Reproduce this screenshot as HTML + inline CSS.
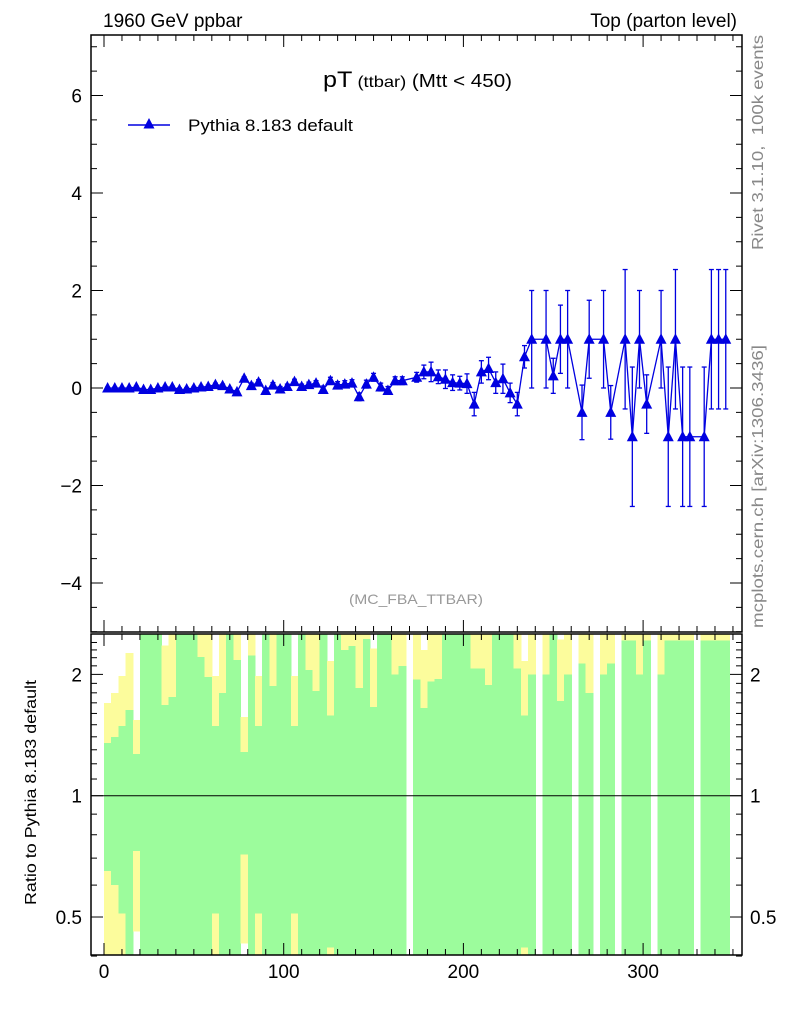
<!DOCTYPE html>
<html><head><meta charset="utf-8"><style>
html,body{margin:0;padding:0;background:#fff;}
svg{display:block;font-family:"Liberation Sans",Arial,sans-serif;}
#bands rect{shape-rendering:crispEdges;}
</style></head><body>
<svg id="chart" width="786" height="1024" viewBox="0 0 786 1024" xmlns="http://www.w3.org/2000/svg">
<text x="103" y="27" font-size="19">1960 GeV ppbar</text>
<text x="737" y="27" font-size="19" text-anchor="end">Top (parton level)</text>
<text x="323" y="87" textLength="189" lengthAdjust="spacingAndGlyphs"><tspan font-size="22">pT</tspan><tspan font-size="16"> (ttbar)</tspan><tspan font-size="18"> (Mtt &lt; 450)</tspan></text>
<text x="416" y="604" font-size="14" fill="#999" text-anchor="middle" textLength="134" lengthAdjust="spacingAndGlyphs">(MC_FBA_TTBAR)</text>
<text transform="translate(763,250) rotate(-90)" font-size="16" fill="#888" textLength="215" lengthAdjust="spacingAndGlyphs" xml:space="preserve">Rivet 3.1.10,  100k events</text>
<text transform="translate(763,628) rotate(-90)" font-size="16" fill="#888" textLength="283" lengthAdjust="spacingAndGlyphs">mcplots.cern.ch [arXiv:1306.3436]</text>
<text transform="translate(36,905) rotate(-90)" font-size="16" textLength="225" lengthAdjust="spacingAndGlyphs">Ratio to Pythia 8.183 default</text>
<g>
<line x1="128" y1="125" x2="170" y2="125" stroke="#0000e0" stroke-width="1.5"/>
<polygon points="149,118 143.5,128.5 154.5,128.5" fill="#0000e0"/>
<text x="188" y="131" font-size="17" textLength="165" lengthAdjust="spacingAndGlyphs">Pythia 8.183 default</text>
</g>
<g id="bands"></g>
<g id="marks"></g>
<g id="axes"></g>
</svg>
<script>
const values = [0,0,0,0,0.02,-0.03,-0.03,0,0.02,0.02,-0.03,-0.02,0,0.02,0.03,0.07,0.05,-0.02,-0.08,0.2,0.05,0.12,-0.05,0.06,-0.02,0.03,0.13,0.03,0.07,0.1,-0.03,0.15,0.06,0.08,0.1,-0.18,0.08,0.22,0.02,-0.05,0.15,0.15,null,0.22,0.33,0.33,0.23,0.18,0.11,0.1,0.09,-0.33,0.33,0.4,0.11,0.19,-0.1,-0.33,0.64,1,null,1,0.25,1,1,null,-0.5,1,null,1,-0.5,null,1,-1,1,-0.33,null,1,-1,1,-1,-1,null,-1,1,1,1];
const errors = [0.02,0.02,0.02,0.02,0.02,0.02,0.02,0.02,0.02,0.02,0.03,0.03,0.03,0.03,0.03,0.03,0.03,0.03,0.03,0.03,0.05,0.05,0.05,0.05,0.05,0.05,0.05,0.05,0.05,0.05,0.07,0.07,0.07,0.07,0.07,0.08,0.08,0.08,0.08,0.08,0.08,0.08,null,0.1,0.14,0.2,0.14,0.19,0.16,0.14,0.2,0.24,0.23,0.23,0.22,0.3,0.2,0.24,0.23,1.0,null,1.0,0.36,0.7,1.0,null,0.56,0.8,null,1.0,0.55,null,1.43,1.43,1.0,0.6,null,1.0,1.43,1.43,1.43,1.43,null,1.43,1.43,1.43,1.43];
const relErrors = [0.35,0.4,0.49,0.63,0.27,2,2,2,0.68,0.76,2,2,2,1.21,0.97,0.49,0.8,2,1.17,0.285,1.23,0.49,2,0.87,2,2,0.49,2,1.05,0.82,2,0.58,2,1.3,1.35,0.85,1.45,0.66,2,2,1.0,1.1,null,0.94,0.65,0.92,0.95,2,2,2,2,1.07,1.07,0.88,2,2,2,1.07,0.58,1.0,null,1.0,2,0.72,1.0,null,1.13,0.8,null,1.0,1.13,null,1.43,1.43,1.0,1.43,null,1.0,1.43,1.43,1.43,1.43,null,1.43,1.43,1.43,1.43];
const binWidth = 4;
const xTicks = [0,100,200,300];
const yTicks = [-4,-2,0,2,4,6];
const ratioTicks = [0.5,1,2];

const NS="http://www.w3.org/2000/svg";
const X0=91,X1=742, MT=35, MB=632, RT=634, RB=955;
const xs = v => 104 + v*1.797;
const ym = v => 388 - v*48.75;
const RMIN=0.4, RMAX=2.5;
const yr = r => 795.7 - Math.log10(r)*403;
function mk(tag, attrs, parent){const e=document.createElementNS(NS,tag);for(const k in attrs)e.setAttribute(k,attrs[k]);parent.appendChild(e);return e;}
const bands=document.getElementById('bands'), marks=document.getElementById('marks'), axes=document.getElementById('axes');
const clipR = r => r<=RMIN? RB : (r>=RMAX? RT : yr(r));

relErrors.forEach((e,i)=>{
  if(e===null) return;
  const xa=xs(i*binWidth), xb=xs((i+1)*binWidth)+0.6;
  const yt=clipR(1+2*e), yb=clipR(1-2*e);
  const r1=mk('rect',{x:xa,y:yt,width:xb-xa,height:yb-yt,fill:'#fcfc9c'},bands);
  
  
  const gt=clipR(1+e), gb=clipR(1-e);
  const r2=mk('rect',{x:xa,y:gt,width:xb-xa,height:gb-gt,fill:'#9cfc9c'},bands);
  
  
});
const one=mk('line',{x1:X0,x2:X1,y1:yr(1),y2:yr(1),stroke:'#000','stroke-width':1},bands);



let pts=[];
values.forEach((v,i)=>{ if(v!==null) pts.push([xs(i*binWidth+binWidth/2), ym(v)]); });
const pl=mk('polyline',{points:pts.map(p=>p.join(',')).join(' '),fill:'none',stroke:'#0000e0','stroke-width':1.3},marks);


values.forEach((v,i)=>{
  if(v===null) return;
  const cx=xs(i*binWidth+binWidth/2), cy=ym(v), er=errors[i]||0;
  const g=mk('g',{stroke:'#0000e0','stroke-width':1.3},marks);
  
  
  const t=ym(v+er), b=ym(v-er);
  mk('line',{x1:cx,x2:cx,y1:t,y2:b},g);
  mk('line',{x1:cx-2.5,x2:cx+2.5,y1:t,y2:t},g);
  mk('line',{x1:cx-2.5,x2:cx+2.5,y1:b,y2:b},g);
  const m=mk('polygon',{points:`${cx},${cy-6} ${cx-5.5},${cy+4.5} ${cx+5.5},${cy+4.5}`,fill:'#0000e0'},marks);
  
  
});

[[MT,MB],[RT,RB]].forEach(([t,b],k)=>{
  const f=mk('rect',{x:X0,y:t,width:X1-X0,height:b-t,fill:'none',stroke:'#000','stroke-width':1.5},axes);
  
  
});
for(let v=0;v<=350;v+=10){
  const x=xs(v), L=(v%100===0)?12:6;
  [[MT,1],[MB,-1],[RT,1],[RB,-1]].forEach(([y,d])=>mk('line',{x1:x,x2:x,y1:y,y2:y+d*L,stroke:'#000','stroke-width':1},axes));
}
xTicks.forEach(v=>{
  const t=mk('text',{x:xs(v),y:978,'font-size':19,'text-anchor':'middle'},axes);
  t.textContent=v;
  
  
});
for(let v=-5;v<=7.2;v+=0.5){
  const y=ym(v); if(y<MT||y>MB) continue;
  const L=(Math.abs(v%2)<1e-9)?12:6;
  mk('line',{x1:X0,x2:X0+L,y1:y,y2:y,stroke:'#000'},axes);
  mk('line',{x1:X1,x2:X1-L,y1:y,y2:y,stroke:'#000'},axes);
}
yTicks.forEach(v=>{
  const t=mk('text',{x:82,y:ym(v)+7,'font-size':19,'text-anchor':'end'},axes);
  t.textContent=v<0?'\u2212'+(-v):v;
  
  
});
const minorR=[0.4,0.5,0.6,0.7,0.8,0.9,1,1.1,1.2,1.3,1.4,1.5,1.6,1.7,1.8,1.9,2,2.1,2.2,2.3,2.4];
minorR.forEach(r=>{
  const y=yr(r), L=ratioTicks.includes(r)?12:6;
  mk('line',{x1:X0,x2:X0+L,y1:y,y2:y,stroke:'#000'},axes);
  mk('line',{x1:X1,x2:X1-L,y1:y,y2:y,stroke:'#000'},axes);
});
ratioTicks.forEach(r=>{
  const t=mk('text',{x:82,y:yr(r)+7,'font-size':19,'text-anchor':'end'},axes);
  t.textContent=r;
  
  
  const t2=mk('text',{x:750,y:yr(r)+7,'font-size':19},axes);
  t2.textContent=r;
  
  
});
</script>
</body></html>
